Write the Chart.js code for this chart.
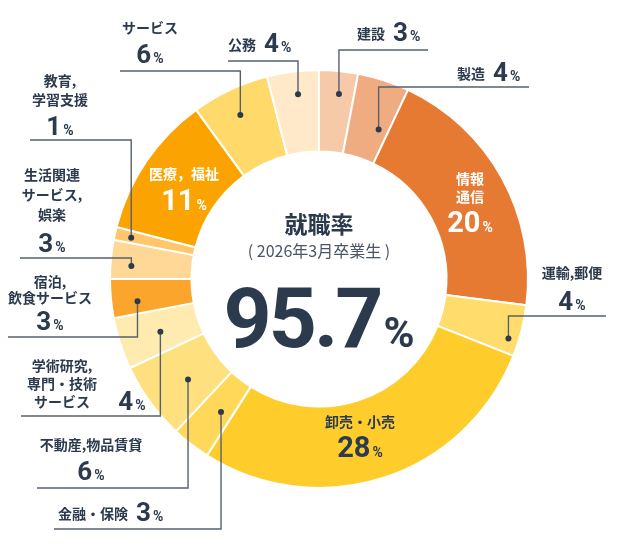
<!DOCTYPE html>
<html lang="ja">
<head>
<meta charset="utf-8">
<script src="https://cdn.jsdelivr.net/npm/chart.js@4"></script>
<style>
  html, body { margin: 0; padding: 0; background: #fff; }
  #wrap { width: 640px; height: 560px; position: relative; }
</style>
</head>
<body>
<div id="wrap"><canvas id="chart"></canvas></div>
<script>
// 業種別 就職者割合 (%) - 12時の位置から時計回り
const categories = [
  '建設', '製造', '情報\n通信', '運輸,郵便', '卸売・小売', '金融・保険',
  '不動産,物品賃貸', '学術研究,\n専門・技術\nサービス', '宿泊,\n飲食サービス',
  '生活関連\nサービス,\n娯楽', '教育,\n学習支援', '医療，福祉', 'サービス', '公務'
];
const shares = [3, 4, 20, 4, 28, 3, 6, 4, 3, 3, 1, 11, 6, 4];
const colors = [
  '#F6CAA8', '#EFAC80', '#E67A33', '#FFDC6C', '#FFCD2B', '#FFD85A',
  '#FFE07F', '#FFEBAF', '#FCA52C', '#FFD796', '#FFC66C', '#FBA300', '#FFD96A', '#FFE9C8'
];
const rateTitle = '就職率';
const rateSub = '( 2026年3月卒業生 )';
const rateValue = '95.7';

const INK = '#2C3A4D';
const LINE = '#56616F';
const JP = '"Noto Sans CJK JP", "Noto Sans", sans-serif';
const NUM = 'Roboto, "Noto Sans", sans-serif';

// ラベル配置 (キャンバス座標)
// dotT: 扇形の中での角度の位置 (0-1), dotR: 外径に対する半径
// inside: 輪の中に描く / inline: 名前と数値を1行に / それ以外: 複数行で中央揃え
const labelLayout = [
  { inline: true, x: 357, y: 41, dotT: 0.57, dotR: 0.89, lineY: 50, lineEnd: 428 },
  { inline: true, x: 457, y: 81, dotT: 0.76, dotR: 0.77, lineY: 87, lineEnd: 529 },
  { inside: true, cx: 470, nameY: 179, lh: 18, pctY: 232, color: '#fff' },
  { cx: 572, nameY: 273, lh: 18, pctY: 310, dotT: 0.71, dotR: 0.95, lineY: 316, lineEnd: 606 },
  { inside: true, cx: 360, nameY: 422, lh: 18, pctY: 457, color: INK },
  { inline: true, x: 58, y: 521, dotT: 0.37, dotR: 0.79, lineY: 529, lineEnd: 54 },
  { cx: 91, nameY: 445, lh: 18, pctY: 480, dotT: 0.43, dotR: 0.79, lineY: 488, lineEnd: 37 },
  { cx: 62, nameY: 366, lh: 18, pctX: 132, pctY: 410, dotT: 0.47, dotR: 0.80, lineY: 416, lineEnd: 21 },
  { cx: 50, nameY: 282, lh: 16, pctY: 330, dotT: 0.35, dotR: 0.875, lineY: 337, lineEnd: 8 },
  { cx: 52, nameY: 175, lh: 20, pctY: 252, dotT: 0.37, dotR: 0.90, lineY: 258, lineEnd: 20 },
  { cx: 60, nameY: 81, lh: 19, pctY: 135, dotT: 0.44, dotR: 0.92, lineY: 140, lineEnd: 30 },
  { inside: true, cx: 184, nameY: 174, lh: 18, pctY: 210, color: '#fff' },
  { cx: 150, nameY: 28, lh: 18, pctY: 63, dotT: 0.48, dotR: 0.87, lineY: 71, lineEnd: 120 },
  { inline: true, x: 228, y: 52, dotT: 0.55, dotR: 0.89, lineY: 61, lineEnd: 228 }
];

function drawPct(ctx, value, x, y, align, color, big) {
  const numFont = 'bold ' + (big ? 29 : 26) + 'px ' + NUM;
  const pctFont = 'bold 14px ' + NUM;
  ctx.font = numFont;
  const nw = ctx.measureText(String(value)).width;
  ctx.font = pctFont;
  const pw = ctx.measureText('%').width;
  const total = nw + 2 + pw;
  let left = x;
  if (align === 'center') left = x - total / 2;
  ctx.fillStyle = color;
  ctx.textAlign = 'left';
  ctx.textBaseline = 'alphabetic';
  ctx.font = numFont;
  ctx.fillText(String(value), left, y);
  ctx.font = pctFont;
  ctx.fillText('%', left + nw + 2, y);
}

const labelPlugin = {
  id: 'industryLabels',
  afterDatasetsDraw(chart) {
    const ctx = chart.ctx;
    const meta = chart.getDatasetMeta(0);
    ctx.save();

    meta.data.forEach((arc, i) => {
      const lay = labelLayout[i];
      const p = arc.getProps(['x', 'y', 'startAngle', 'endAngle', 'innerRadius', 'outerRadius'], true);

      if (!lay.inside) {
        const a = p.startAngle + (p.endAngle - p.startAngle) * lay.dotT;
        const r = p.outerRadius * lay.dotR;
        const dx = p.x + Math.cos(a) * r;
        const dy = p.y + Math.sin(a) * r;
        ctx.strokeStyle = LINE;
        ctx.lineWidth = 1.4;
        ctx.beginPath();
        ctx.moveTo(dx, dy);
        ctx.lineTo(dx, lay.lineY);
        ctx.lineTo(lay.lineEnd, lay.lineY);
        ctx.stroke();
        ctx.fillStyle = INK;
        ctx.beginPath();
        ctx.arc(dx, dy, 3, 0, Math.PI * 2);
        ctx.fill();
      }

      const lines = categories[i].split('\n');
      const color = lay.color || INK;
      ctx.fillStyle = color;
      ctx.font = 'bold 14px ' + JP;
      if (lay.inline) {
        ctx.textAlign = 'left';
        ctx.textBaseline = 'alphabetic';
        ctx.fillText(lines[0], lay.x, lay.y - 2);
        const w = ctx.measureText(lines[0]).width;
        drawPct(ctx, shares[i], lay.x + w + 8, lay.y, 'left', color, false);
      } else {
        ctx.textAlign = 'center';
        ctx.textBaseline = 'middle';
        lines.forEach((t, k) => ctx.fillText(t, lay.cx, lay.nameY + k * lay.lh));
        const px = lay.pctX !== undefined ? lay.pctX : lay.cx;
        drawPct(ctx, shares[i], px, lay.pctY, 'center', color, lay.inside);
      }
    });

    // 中央の就職率
    const cx = meta.data[0].x;
    const cy = meta.data[0].y;
    ctx.fillStyle = INK;
    ctx.textAlign = 'center';
    ctx.textBaseline = 'middle';
    ctx.font = 'bold 23px ' + JP;
    ctx.fillText(rateTitle, cx, cy - 55);
    ctx.fillStyle = '#4A5566';
    ctx.font = '400 16px ' + JP;
    ctx.fillText(rateSub, cx, cy - 28);

    ctx.fillStyle = INK;
    ctx.textBaseline = 'alphabetic';
    ctx.textAlign = 'left';
    ctx.letterSpacing = '-3px';
    ctx.font = 'bold 84px ' + NUM;
    const vw = ctx.measureText(rateValue).width;
    ctx.letterSpacing = '0px';
    ctx.font = 'bold 42px ' + NUM;
    const pw = ctx.measureText('%').width;
    const left = cx - (vw + 3 + pw) / 2;
    ctx.letterSpacing = '-3px';
    ctx.font = 'bold 84px ' + NUM;
    ctx.fillText(rateValue, left, cy + 68);
    ctx.letterSpacing = '0px';
    ctx.font = 'bold 42px ' + NUM;
    ctx.fillText('%', left + vw + 3, cy + 68);

    ctx.restore();
  }
};

new Chart(document.getElementById('chart'), {
  type: 'doughnut',
  data: {
    labels: categories,
    datasets: [{
      data: shares,
      backgroundColor: colors,
      borderColor: '#fff',
      borderWidth: 2
    }]
  },
  options: {
    responsive: true,
    maintainAspectRatio: false,
    animation: false,
    cutout: '61%',
    layout: { padding: { left: 109, right: 111, top: 69, bottom: 71 } },
    plugins: {
      legend: { display: false },
      tooltip: { enabled: false }
    }
  },
  plugins: [labelPlugin]
});
</script>
</body>
</html>
